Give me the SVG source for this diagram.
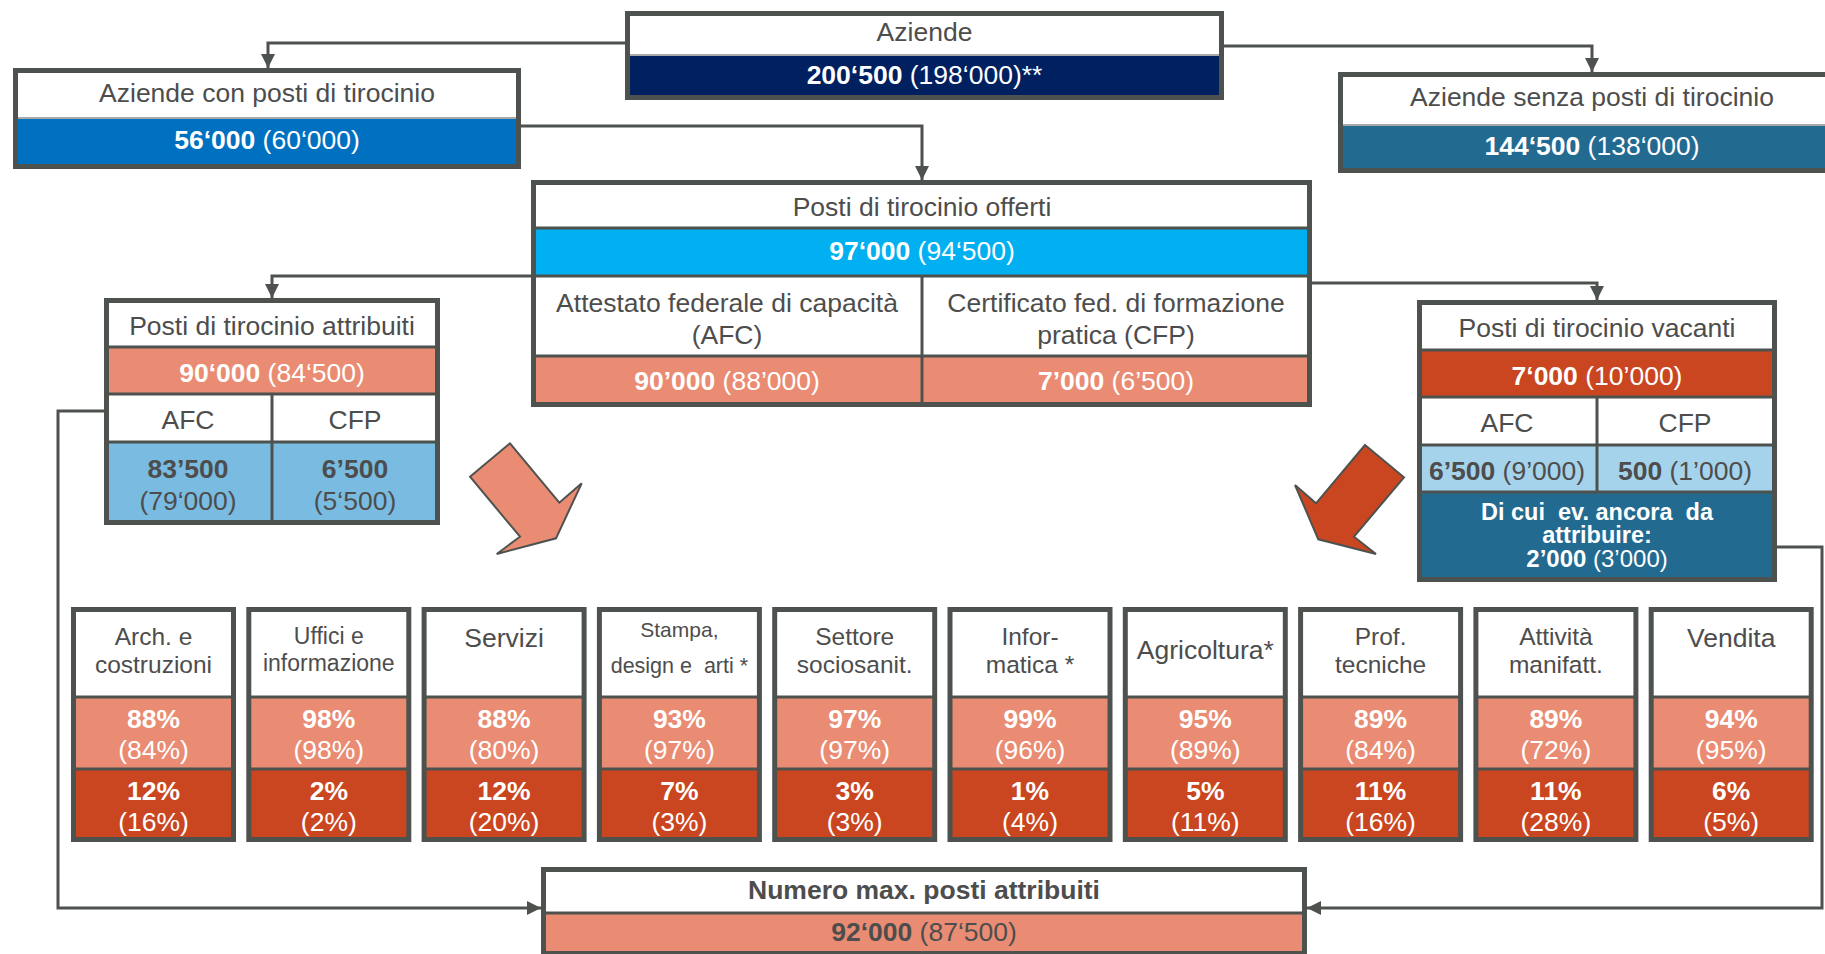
<svg xmlns="http://www.w3.org/2000/svg" width="1825" height="954" viewBox="0 0 1825 954">
<style>
.bx{fill:none;stroke:#4E524F;stroke-width:5}
.sep{stroke:#4E524F;stroke-width:3}
.lsep{stroke:#A8A8A8;stroke-width:2}
.t{font-family:"Liberation Sans",Arial,sans-serif;font-size:26.5px;fill:#4D4D4D;text-anchor:middle}
.h2{font-size:24.5px}
.w{fill:#FFFFFF}
.b{font-weight:bold}
.con{fill:none;stroke:#4E524F;stroke-width:3}
.sal{fill:#E98C73}
.org{fill:#CA4620}
.wh{fill:#FFFFFF}
</style>
<defs>
<marker id="ah" viewBox="0 0 10 10" refX="10" refY="5" markerWidth="14" markerHeight="14" markerUnits="userSpaceOnUse" orient="auto">
<path d="M0,0 L10,5 L0,10 z" fill="#4E524F"/>
</marker>
</defs>
<rect width="1825" height="954" fill="#FFFFFF"/>

<g id="aziende">
<rect x="627.5" y="13.5" width="594" height="84" class="wh"/>
<rect x="627.5" y="55" width="594" height="42.5" fill="#002060"/>
<line x1="627.5" y1="55" x2="1221.5" y2="55" class="lsep"/>
<rect x="627.5" y="13.5" width="594" height="84" class="bx"/>
<text class="t" x="924.5" y="40.5">Aziende</text>
<text class="t w" x="924.5" y="84"><tspan class="b">200‘500</tspan> (198‘000)**</text>
</g>

<g id="aziende-con">
<rect x="15.5" y="70.5" width="503" height="96" class="wh"/>
<rect x="15.5" y="118" width="503" height="48.5" fill="#0070C0"/>
<line x1="15.5" y1="118" x2="518.5" y2="118" class="lsep"/>
<rect x="15.5" y="70.5" width="503" height="96" class="bx"/>
<text class="t" x="267" y="101.5">Aziende con posti di tirocinio</text>
<text class="t w" x="267" y="149"><tspan class="b">56‘000</tspan> (60‘000)</text>
</g>

<g id="aziende-senza">
<rect x="1340.5" y="74.5" width="503" height="96" class="wh"/>
<rect x="1340.5" y="125" width="503" height="45.5" fill="#236A91"/>
<line x1="1340.5" y1="125" x2="1843.5" y2="125" class="lsep"/>
<rect x="1340.5" y="74.5" width="503" height="96" class="bx"/>
<text class="t" x="1592" y="106">Aziende senza posti di tirocinio</text>
<text class="t w" x="1592" y="155"><tspan class="b">144‘500</tspan> (138‘000)</text>
</g>

<g id="offerti">
<rect x="533.5" y="182.5" width="776" height="222" class="wh"/>
<rect x="533.5" y="228" width="776" height="48" fill="#00B0F0"/>
<rect x="533.5" y="356" width="776" height="48.5" class="sal"/>
<line x1="533.5" y1="228" x2="1309.5" y2="228" class="sep"/>
<line x1="533.5" y1="276" x2="1309.5" y2="276" class="sep"/>
<line x1="533.5" y1="356" x2="1309.5" y2="356" class="sep"/>
<line x1="922" y1="276" x2="922" y2="404.5" class="sep"/>
<rect x="533.5" y="182.5" width="776" height="222" class="bx"/>
<text class="t" x="922" y="215.5">Posti di tirocinio offerti</text>
<text class="t w" x="922" y="259.5"><tspan class="b">97‘000</tspan> (94‘500)</text>
<text class="t" x="727" y="312">Attestato federale di capacità<tspan x="727" dy="31.5">(AFC)</tspan></text>
<text class="t" x="1116" y="312">Certificato fed. di formazione<tspan x="1116" dy="31.5">pratica (CFP)</tspan></text>
<text class="t w" x="727" y="390"><tspan class="b">90’000</tspan> (88’000)</text>
<text class="t w" x="1116" y="390"><tspan class="b">7’000</tspan> (6’500)</text>
</g>

<g id="attribuiti">
<rect x="106.5" y="300.5" width="331" height="222" class="wh"/>
<rect x="106.5" y="347" width="331" height="47" class="sal"/>
<rect x="106.5" y="442" width="331" height="80.5" fill="#7ABCE1"/>
<line x1="106.5" y1="347" x2="437.5" y2="347" class="sep"/>
<line x1="106.5" y1="394" x2="437.5" y2="394" class="sep"/>
<line x1="106.5" y1="442" x2="437.5" y2="442" class="sep"/>
<line x1="272" y1="394" x2="272" y2="522.5" class="sep"/>
<rect x="106.5" y="300.5" width="331" height="222" class="bx"/>
<text class="t" x="272" y="334.5">Posti di tirocinio attribuiti</text>
<text class="t w" x="272" y="382"><tspan class="b">90‘000</tspan> (84‘500)</text>
<text class="t" x="188" y="428.5">AFC</text>
<text class="t" x="355" y="428.5">CFP</text>
<text class="t" x="188" y="477.5"><tspan class="b">83’500</tspan><tspan x="188" dy="32.5">(79‘000)</tspan></text>
<text class="t" x="355" y="477.5"><tspan class="b">6’500</tspan><tspan x="355" dy="32.5">(5‘500)</tspan></text>
</g>

<g id="vacanti">
<rect x="1419.5" y="302.5" width="355" height="277" class="wh"/>
<rect x="1419.5" y="350" width="355" height="47" class="org"/>
<rect x="1419.5" y="445" width="355" height="47" fill="#A6D3EC"/>
<rect x="1419.5" y="492" width="355" height="87.5" fill="#236A91"/>
<line x1="1419.5" y1="350" x2="1774.5" y2="350" class="sep"/>
<line x1="1419.5" y1="397" x2="1774.5" y2="397" class="sep"/>
<line x1="1419.5" y1="445" x2="1774.5" y2="445" class="sep"/>
<line x1="1419.5" y1="492" x2="1774.5" y2="492" class="sep"/>
<line x1="1597" y1="397" x2="1597" y2="492" class="sep"/>
<rect x="1419.5" y="302.5" width="355" height="277" class="bx"/>
<text class="t" x="1597" y="336.5">Posti di tirocinio vacanti</text>
<text class="t w" x="1597" y="384.5"><tspan class="b">7‘000</tspan> (10’000)</text>
<text class="t" x="1507" y="432">AFC</text>
<text class="t" x="1685" y="432">CFP</text>
<text class="t" x="1507" y="479.5"><tspan class="b">6’500</tspan> (9’000)</text>
<text class="t" x="1685" y="479.5"><tspan class="b">500</tspan> (1’000)</text>
<text class="t w" x="1597" y="520" style="font-size:23.5px"><tspan class="b">Di cui&#160; ev. ancora&#160; da</tspan><tspan class="b" x="1597" dy="23">attribuire:</tspan><tspan x="1597" dy="24" style="font-size:24px"><tspan class="b">2’000</tspan> (3’000)</tspan></text>
</g>

<g id="arrow-left">
<polygon points="470,476.7 510,443.3 559.3,502.7 581.7,483.3 556,538.3 496.7,554 520,536.7" fill="#E98C73" stroke="#4E524F" stroke-width="2"/>
</g>
<g id="arrow-right">
<polygon points="1365,445 1404,477.3 1354,536.7 1376,554 1318.3,539.3 1295,485 1316,503.3" fill="#CA4620" stroke="#4E524F" stroke-width="2"/>
</g>

<g id="sector-arch">
<rect x="73.5" y="609.5" width="160" height="230" class="wh"/>
<rect x="73.5" y="697" width="160" height="72" class="sal"/>
<rect x="73.5" y="769" width="160" height="70.5" class="org"/>
<line x1="73.5" y1="697" x2="233.5" y2="697" class="sep"/>
<line x1="73.5" y1="769" x2="233.5" y2="769" class="sep"/>
<rect x="73.5" y="609.5" width="160" height="230" class="bx"/>
<text class="t h2" x="153.5" y="644.5">Arch. e<tspan x="153.5" dy="28">costruzioni</tspan></text>
<text class="t w" x="153.5" y="727.5"><tspan class="b">88%</tspan><tspan x="153.5" dy="31.5">(84%)</tspan></text>
<text class="t w" x="153.5" y="799.5"><tspan class="b">12%</tspan><tspan x="153.5" dy="31.5">(16%)</tspan></text>
</g>

<g id="sector-uffici">
<rect x="248.8" y="609.5" width="160" height="230" class="wh"/>
<rect x="248.8" y="697" width="160" height="72" class="sal"/>
<rect x="248.8" y="769" width="160" height="70.5" class="org"/>
<line x1="248.8" y1="697" x2="408.8" y2="697" class="sep"/>
<line x1="248.8" y1="769" x2="408.8" y2="769" class="sep"/>
<rect x="248.8" y="609.5" width="160" height="230" class="bx"/>
<text class="t" x="328.8" y="644" style="font-size:23px">Uffici e<tspan x="328.8" dy="27">informazione</tspan></text>
<text class="t w" x="328.8" y="727.5"><tspan class="b">98%</tspan><tspan x="328.8" dy="31.5">(98%)</tspan></text>
<text class="t w" x="328.8" y="799.5"><tspan class="b">2%</tspan><tspan x="328.8" dy="31.5">(2%)</tspan></text>
</g>

<g id="sector-servizi">
<rect x="424.1" y="609.5" width="160" height="230" class="wh"/>
<rect x="424.1" y="697" width="160" height="72" class="sal"/>
<rect x="424.1" y="769" width="160" height="70.5" class="org"/>
<line x1="424.1" y1="697" x2="584.1" y2="697" class="sep"/>
<line x1="424.1" y1="769" x2="584.1" y2="769" class="sep"/>
<rect x="424.1" y="609.5" width="160" height="230" class="bx"/>
<text class="t" x="504.1" y="647">Servizi</text>
<text class="t w" x="504.1" y="727.5"><tspan class="b">88%</tspan><tspan x="504.1" dy="31.5">(80%)</tspan></text>
<text class="t w" x="504.1" y="799.5"><tspan class="b">12%</tspan><tspan x="504.1" dy="31.5">(20%)</tspan></text>
</g>

<g id="sector-stampa">
<rect x="599.4" y="609.5" width="160" height="230" class="wh"/>
<rect x="599.4" y="697" width="160" height="72" class="sal"/>
<rect x="599.4" y="769" width="160" height="70.5" class="org"/>
<line x1="599.4" y1="697" x2="759.4" y2="697" class="sep"/>
<line x1="599.4" y1="769" x2="759.4" y2="769" class="sep"/>
<rect x="599.4" y="609.5" width="160" height="230" class="bx"/>
<text class="t" x="679.4" y="637" style="font-size:21px">Stampa,<tspan x="679.4" dy="36" style="font-size:21.5px">design e&#160; arti *</tspan></text>
<text class="t w" x="679.4" y="727.5"><tspan class="b">93%</tspan><tspan x="679.4" dy="31.5">(97%)</tspan></text>
<text class="t w" x="679.4" y="799.5"><tspan class="b">7%</tspan><tspan x="679.4" dy="31.5">(3%)</tspan></text>
</g>

<g id="sector-sociosanit">
<rect x="774.7" y="609.5" width="160" height="230" class="wh"/>
<rect x="774.7" y="697" width="160" height="72" class="sal"/>
<rect x="774.7" y="769" width="160" height="70.5" class="org"/>
<line x1="774.7" y1="697" x2="934.7" y2="697" class="sep"/>
<line x1="774.7" y1="769" x2="934.7" y2="769" class="sep"/>
<rect x="774.7" y="609.5" width="160" height="230" class="bx"/>
<text class="t h2" x="854.7" y="644.5">Settore<tspan x="854.7" dy="28">sociosanit.</tspan></text>
<text class="t w" x="854.7" y="727.5"><tspan class="b">97%</tspan><tspan x="854.7" dy="31.5">(97%)</tspan></text>
<text class="t w" x="854.7" y="799.5"><tspan class="b">3%</tspan><tspan x="854.7" dy="31.5">(3%)</tspan></text>
</g>

<g id="sector-informatica">
<rect x="950" y="609.5" width="160" height="230" class="wh"/>
<rect x="950" y="697" width="160" height="72" class="sal"/>
<rect x="950" y="769" width="160" height="70.5" class="org"/>
<line x1="950" y1="697" x2="1110" y2="697" class="sep"/>
<line x1="950" y1="769" x2="1110" y2="769" class="sep"/>
<rect x="950" y="609.5" width="160" height="230" class="bx"/>
<text class="t h2" x="1030" y="644.5">Infor-<tspan x="1030" dy="28">matica *</tspan></text>
<text class="t w" x="1030" y="727.5"><tspan class="b">99%</tspan><tspan x="1030" dy="31.5">(96%)</tspan></text>
<text class="t w" x="1030" y="799.5"><tspan class="b">1%</tspan><tspan x="1030" dy="31.5">(4%)</tspan></text>
</g>

<g id="sector-agricoltura">
<rect x="1125.3" y="609.5" width="160" height="230" class="wh"/>
<rect x="1125.3" y="697" width="160" height="72" class="sal"/>
<rect x="1125.3" y="769" width="160" height="70.5" class="org"/>
<line x1="1125.3" y1="697" x2="1285.3" y2="697" class="sep"/>
<line x1="1125.3" y1="769" x2="1285.3" y2="769" class="sep"/>
<rect x="1125.3" y="609.5" width="160" height="230" class="bx"/>
<text class="t" x="1205.3" y="659">Agricoltura*</text>
<text class="t w" x="1205.3" y="727.5"><tspan class="b">95%</tspan><tspan x="1205.3" dy="31.5">(89%)</tspan></text>
<text class="t w" x="1205.3" y="799.5"><tspan class="b">5%</tspan><tspan x="1205.3" dy="31.5">(11%)</tspan></text>
</g>

<g id="sector-tecniche">
<rect x="1300.6" y="609.5" width="160" height="230" class="wh"/>
<rect x="1300.6" y="697" width="160" height="72" class="sal"/>
<rect x="1300.6" y="769" width="160" height="70.5" class="org"/>
<line x1="1300.6" y1="697" x2="1460.6" y2="697" class="sep"/>
<line x1="1300.6" y1="769" x2="1460.6" y2="769" class="sep"/>
<rect x="1300.6" y="609.5" width="160" height="230" class="bx"/>
<text class="t h2" x="1380.6" y="644.5">Prof.<tspan x="1380.6" dy="28">tecniche</tspan></text>
<text class="t w" x="1380.6" y="727.5"><tspan class="b">89%</tspan><tspan x="1380.6" dy="31.5">(84%)</tspan></text>
<text class="t w" x="1380.6" y="799.5"><tspan class="b">11%</tspan><tspan x="1380.6" dy="31.5">(16%)</tspan></text>
</g>

<g id="sector-manifatt">
<rect x="1475.9" y="609.5" width="160" height="230" class="wh"/>
<rect x="1475.9" y="697" width="160" height="72" class="sal"/>
<rect x="1475.9" y="769" width="160" height="70.5" class="org"/>
<line x1="1475.9" y1="697" x2="1635.9" y2="697" class="sep"/>
<line x1="1475.9" y1="769" x2="1635.9" y2="769" class="sep"/>
<rect x="1475.9" y="609.5" width="160" height="230" class="bx"/>
<text class="t h2" x="1555.9" y="644.5">Attività<tspan x="1555.9" dy="28">manifatt.</tspan></text>
<text class="t w" x="1555.9" y="727.5"><tspan class="b">89%</tspan><tspan x="1555.9" dy="31.5">(72%)</tspan></text>
<text class="t w" x="1555.9" y="799.5"><tspan class="b">11%</tspan><tspan x="1555.9" dy="31.5">(28%)</tspan></text>
</g>

<g id="sector-vendita">
<rect x="1651.2" y="609.5" width="160" height="230" class="wh"/>
<rect x="1651.2" y="697" width="160" height="72" class="sal"/>
<rect x="1651.2" y="769" width="160" height="70.5" class="org"/>
<line x1="1651.2" y1="697" x2="1811.2" y2="697" class="sep"/>
<line x1="1651.2" y1="769" x2="1811.2" y2="769" class="sep"/>
<rect x="1651.2" y="609.5" width="160" height="230" class="bx"/>
<text class="t" x="1731.2" y="647">Vendita</text>
<text class="t w" x="1731.2" y="727.5"><tspan class="b">94%</tspan><tspan x="1731.2" dy="31.5">(95%)</tspan></text>
<text class="t w" x="1731.2" y="799.5"><tspan class="b">6%</tspan><tspan x="1731.2" dy="31.5">(5%)</tspan></text>
</g>

<g id="numero-max">
<rect x="543.5" y="869.5" width="761" height="84" class="wh"/>
<rect x="543.5" y="913" width="761" height="40.5" class="sal"/>
<line x1="543.5" y1="913" x2="1304.5" y2="913" class="sep"/>
<rect x="543.5" y="869.5" width="761" height="84" class="bx"/>
<text class="t b" x="924" y="898.5">Numero max. posti attribuiti</text>
<text class="t" x="924" y="940.5"><tspan class="b">92‘000</tspan> (87‘500)</text>
</g>

<g id="connectors">
<path class="con" d="M625,43 H268 V68" marker-end="url(#ah)"/>
<path class="con" d="M1224,46 H1592 V72" marker-end="url(#ah)"/>
<path class="con" d="M521,126 H922 V180" marker-end="url(#ah)"/>
<path class="con" d="M531,276 H272 V298" marker-end="url(#ah)"/>
<path class="con" d="M1312,283 H1597 V300" marker-end="url(#ah)"/>
<path class="con" d="M104,411 H58 V908 H541" marker-end="url(#ah)"/>
<path class="con" d="M1777,547 H1822 V908 H1307" marker-end="url(#ah)"/>
</g>
</svg>
